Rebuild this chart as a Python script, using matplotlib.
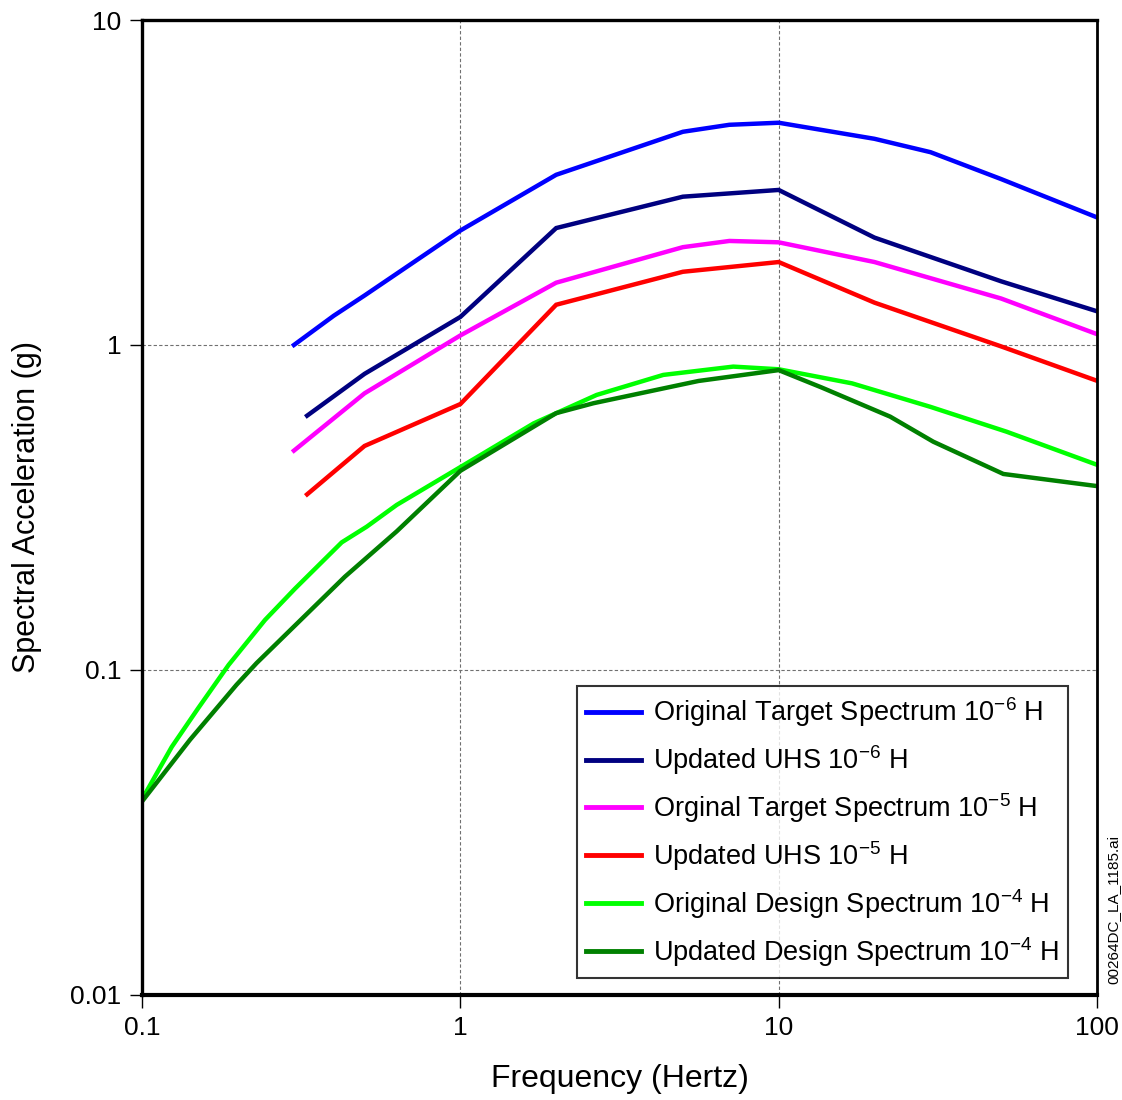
import numpy as np
import matplotlib
matplotlib.use("Agg")
import matplotlib.pyplot as plt
from matplotlib.ticker import FixedLocator, FixedFormatter, NullLocator

plt.rcParams['font.family'] = ['Liberation Sans', 'DejaVu Sans']
plt.rcParams['mathtext.fontset'] = 'custom'
plt.rcParams['mathtext.rm'] = 'Liberation Sans'
plt.rcParams['mathtext.it'] = 'Liberation Sans:italic'
plt.rcParams['mathtext.bf'] = 'Liberation Sans:bold'

# spectra (frequency in Hz, spectral acceleration in g)
freq_orig_1e6 = [0.3, 0.4, 0.5, 1, 2, 5, 7, 10, 20, 30, 50, 100]
sa_orig_1e6 = [1.0, 1.23, 1.42, 2.25, 3.34, 4.53, 4.76, 4.83, 4.31, 3.92, 3.24, 2.47]

freq_uhs_1e6 = [0.33, 0.5, 1, 2, 5, 10, 20, 50, 100]
sa_uhs_1e6 = [0.606, 0.815, 1.22, 2.29, 2.86, 3.0, 2.14, 1.57, 1.27]

freq_orig_1e5 = [0.3, 0.5, 1, 2, 5, 7, 10, 20, 50, 100]
sa_orig_1e5 = [0.473, 0.71, 1.07, 1.555, 2.0, 2.09, 2.07, 1.80, 1.39, 1.08]

freq_uhs_1e5 = [0.33, 0.5, 1, 2, 5, 10, 20, 50, 100]
sa_uhs_1e5 = [0.347, 0.489, 0.658, 1.33, 1.68, 1.80, 1.35, 0.99, 0.776]

freq_design_orig = [0.1, 0.124, 0.15, 0.187, 0.2435, 0.3025, 0.424, 0.508, 0.631,
                    1, 1.7, 2.68, 4.34, 7.2, 10, 17, 30, 52, 100]
sa_design_orig = [0.04, 0.058, 0.0762, 0.1036, 0.1426, 0.178, 0.247, 0.276, 0.322,
                  0.421, 0.574, 0.702, 0.809, 0.858, 0.842, 0.762, 0.645, 0.541, 0.428]

freq_design_upd = [0.1, 0.1415, 0.198, 0.229, 0.434, 0.631, 1, 2, 2.62, 5.6,
                   10, 13.6, 22.4, 30.6, 50.8, 100]
sa_design_upd = [0.0394, 0.061, 0.09, 0.105, 0.1937, 0.267, 0.41, 0.617, 0.662, 0.775,
                 0.837, 0.741, 0.602, 0.504, 0.401, 0.368]

labels = [r'Original Target Spectrum 10$^{-6}$ H',
          r'Updated UHS 10$^{-6}$ H',
          r'Orginal Target Spectrum 10$^{-5}$ H',
          r'Updated UHS 10$^{-5}$ H',
          r'Original Design Spectrum 10$^{-4}$ H',
          r'Updated Design Spectrum 10$^{-4}$ H']
colors = ['#0000ff', '#000080', '#ff00ff', '#ff0000', '#00ff00', '#008000']

x_ticks = [0.1, 1, 10, 100]
x_ticklabels = ['0.1', '1', '10', '100']
y_ticks = [0.01, 0.1, 1, 10]
y_ticklabels = ['0.01', '0.1', '1', '10']

series = [(freq_orig_1e6, sa_orig_1e6), (freq_uhs_1e6, sa_uhs_1e6),
          (freq_orig_1e5, sa_orig_1e5), (freq_uhs_1e5, sa_uhs_1e5),
          (freq_design_orig, sa_design_orig), (freq_design_upd, sa_design_upd)]

fig = plt.figure(figsize=(11.22, 11.0), dpi=100)
ax = fig.add_axes([0.1266, 0.0955, 0.8511, 0.8863])

for (f, s), c, lab in zip(series, colors, labels):
    ax.plot(f, s, color=c, lw=3.2, label=lab, solid_joinstyle='miter')

ax.set_xscale('log')
ax.set_yscale('log')
ax.set_xlim(0.1, 100)
ax.set_ylim(0.01, 10)

ax.xaxis.set_major_locator(FixedLocator(x_ticks))
ax.xaxis.set_major_formatter(FixedFormatter(x_ticklabels))
ax.yaxis.set_major_locator(FixedLocator(y_ticks))
ax.yaxis.set_major_formatter(FixedFormatter(y_ticklabels))
ax.xaxis.set_minor_locator(NullLocator())
ax.yaxis.set_minor_locator(NullLocator())
ax.tick_params(axis='both', which='major', direction='out', length=9, width=1,
               labelsize=19, pad=6)

ax.grid(True, which='major', color='#707070', linestyle=(0, (3, 2)), lw=0.8)

for side in ['left', 'top']:
    ax.spines[side].set_linewidth(2.4)
ax.spines['right'].set_linewidth(2.0)
ax.spines['bottom'].set_linewidth(3.0)

ax.set_xlabel('Frequency (Hertz)', fontsize=23)
ax.set_ylabel('Spectral Acceleration (g)', fontsize=22)
ax.xaxis.set_label_coords(0.5, -0.071)
ax.yaxis.set_label_coords(-0.105, 0.5)

leg = ax.legend(loc='upper left', bbox_to_anchor=(0.4555, 0.317), fontsize=19.5,
                frameon=True, fancybox=False, edgecolor='black',
                handlelength=2.0, handletextpad=0.45, labelspacing=0.52,
                borderpad=0.35, borderaxespad=0)
leg.get_frame().set_linewidth(1.5)
for ln in leg.get_lines():
    ln.set_linewidth(3.5)

fig.text(0.9865, 0.105, '00264DC_LA_1185.ai', rotation=90, fontsize=11,
         ha='left', va='bottom')

fig.savefig('out.png', dpi=100)
